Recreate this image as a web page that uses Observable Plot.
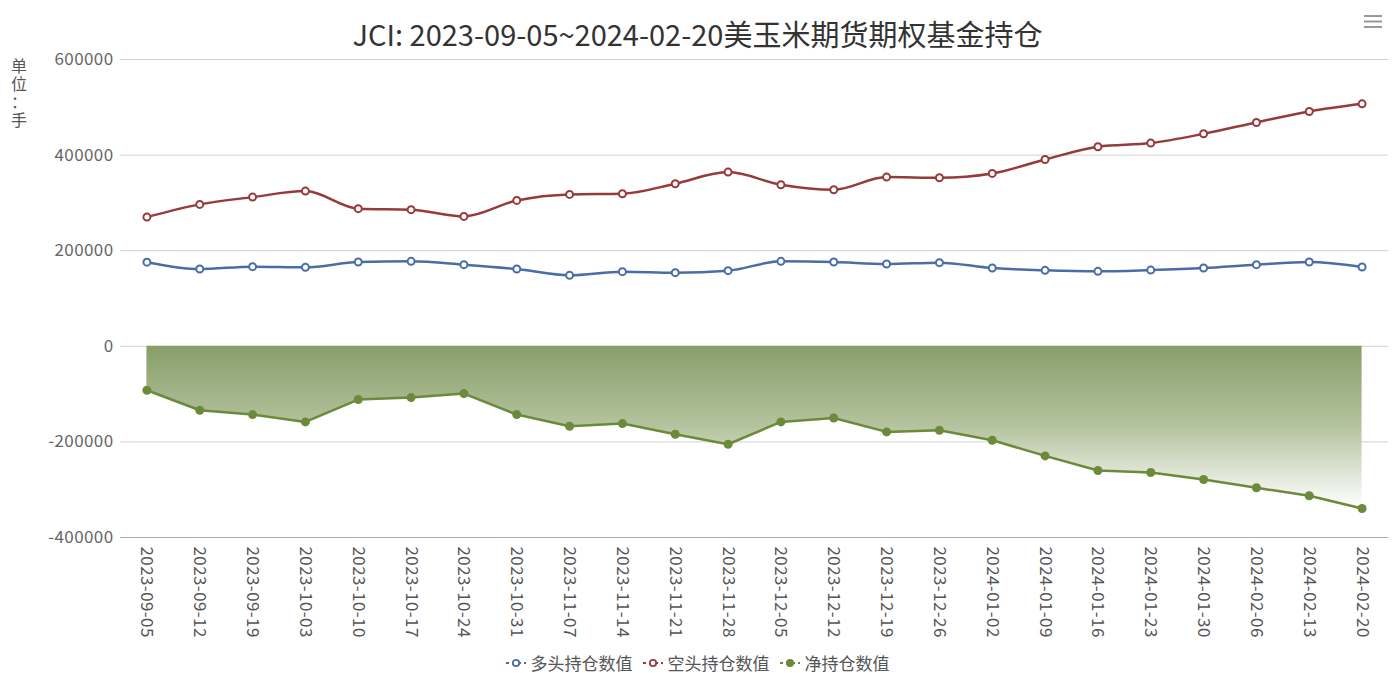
<!DOCTYPE html>
<html>
<head>
<meta charset="utf-8">
<script src="https://cdn.jsdelivr.net/npm/d3@7"></script>
<script src="https://cdn.jsdelivr.net/npm/@observablehq/plot@0.6"></script>
<style>
  html, body { margin: 0; padding: 0; background: #fff; }
  #wrap { position: relative; width: 1395px; height: 673px; font-family: "Noto Sans CJK SC", "Noto Sans", sans-serif; }
  #title { position: absolute; top: 12px; left: 0; width: 1395px; text-align: center; font-size: 29px; color: #333; line-height: 42px; }
  #unit { position: absolute; left: 11px; top: 56px; width: 16px; color: #555; font-size: 16px; line-height: 18px; word-break: break-all; line-break: anywhere; overflow-wrap: anywhere; text-align: center; }
  #menu { position: absolute; left: 1363px; top: 11px; }
  #legend { position: absolute; top: 650px; left: 0; width: 1395px; text-align: center; font-size: 17px; color: #555; line-height: 24px; }
  #legend span.item { display: inline-flex; align-items: center; margin: 0 5px; }
  #legend svg { margin-right: 5px; }
  #chart { position: absolute; left: 0; top: 0; }
</style>
</head>
<body>
<div id="wrap">
  <div id="chart"></div>
  <div id="title"></div>
  <div id="unit"></div>
  <div id="menu">
    <svg width="20" height="16"><g stroke="#999" stroke-width="2"><line x1="1" y1="2" x2="19" y2="2"/><line x1="1" y1="7.5" x2="19" y2="7.5"/><line x1="1" y1="13" x2="19" y2="13"/></g></svg>
  </div>
  <div id="legend"></div>
</div>
<script>
const titleText = "JCI: 2023-09-05~2024-02-20美玉米期货期权基金持仓";
const unitText = "单位：手";
const dates = ["2023-09-05","2023-09-12","2023-09-19","2023-10-03","2023-10-10","2023-10-17","2023-10-24","2023-10-31","2023-11-07","2023-11-14","2023-11-21","2023-11-28","2023-12-05","2023-12-12","2023-12-19","2023-12-26","2024-01-02","2024-01-09","2024-01-16","2024-01-23","2024-01-30","2024-02-06","2024-02-13","2024-02-20"];
const longPos = [176000,161600,166600,165200,176300,177700,170800,161600,148400,156100,154000,158200,177700,176300,172100,175000,163700,158900,156800,159500,163700,170800,176300,165800];
const shortPos = [270300,296900,312100,324700,287900,285800,271800,305200,317800,319200,340100,364400,338000,327600,354000,352700,361700,390900,417500,425100,444600,468300,491300,507300];
const netPos = [-92000,-133800,-142800,-158200,-111400,-107300,-98900,-142800,-167200,-161700,-184000,-204900,-158200,-149900,-179100,-175600,-196500,-229300,-259900,-264100,-278700,-296000,-312700,-339300];
const yTicks = [-400000,-200000,0,200000,400000,600000];
const seriesNames = ["多头持仓数值", "空头持仓数值", "净持仓数值"];
const seriesColors = ["#4a6da7", "#973a3a", "#6b8a3a"];

const data = dates.map((d, i) => ({date: d, long: longPos[i], short: shortPos[i], net: netPos[i]}));

document.getElementById("title").textContent = titleText;
document.getElementById("unit").textContent = unitText;

const gradDefs = () => {
  const ns = "http://www.w3.org/2000/svg";
  const defs = document.createElementNS(ns, "defs");
  const lg = document.createElementNS(ns, "linearGradient");
  lg.setAttribute("id", "netGrad");
  lg.setAttribute("x1", "0"); lg.setAttribute("y1", "0");
  lg.setAttribute("x2", "0"); lg.setAttribute("y2", "1");
  [[0, "#879e69", 1], [0.5, "#b5c49f", 1], [1, "#ffffff", 1]].forEach(([o, c, a]) => {
    const s = document.createElementNS(ns, "stop");
    s.setAttribute("offset", o);
    s.setAttribute("stop-color", c);
    s.setAttribute("stop-opacity", a);
    lg.appendChild(s);
  });
  defs.appendChild(lg);
  const g = document.createElementNS(ns, "g");
  g.appendChild(defs);
  return g;
};

const chart = Plot.plot({
  width: 1395,
  height: 673,
  marginTop: 59,
  marginBottom: 136,
  marginLeft: 120,
  marginRight: 7,
  style: {fontFamily: '"Noto Sans CJK SC", "Noto Sans", sans-serif', fontSize: "17px", background: "transparent", overflow: "visible", letterSpacing: "0.4px"},
  x: {type: "band", domain: dates, padding: 0, round: false},
  y: {domain: [-400000, 600000]},
  marks: [
    gradDefs,
    Plot.ruleY(yTicks.filter(t => t !== -400000), {stroke: "#cfcfcf", strokeWidth: 1}),
    Plot.ruleY([-400000], {stroke: "#aaaaaa", strokeWidth: 1}),
    Plot.areaY(data, {x: "date", y1: 0, y2: "net", fill: "url(#netGrad)", curve: "linear"}),
    Plot.line(data, {x: "date", y: "net", stroke: seriesColors[2], strokeWidth: 2.5, curve: "linear"}),
    Plot.dot(data, {x: "date", y: "net", fill: seriesColors[2], r: 4.5, stroke: "none"}),
    Plot.line(data, {x: "date", y: "long", stroke: seriesColors[0], strokeWidth: 2.5, curve: "monotone-x"}),
    Plot.dot(data, {x: "date", y: "long", fill: "#fff", stroke: seriesColors[0], strokeWidth: 2, r: 3.5}),
    Plot.line(data, {x: "date", y: "short", stroke: seriesColors[1], strokeWidth: 2.5, curve: "monotone-x"}),
    Plot.dot(data, {x: "date", y: "short", fill: "#fff", stroke: seriesColors[1], strokeWidth: 2, r: 3.5}),
    Plot.axisY({ticks: yTicks, tickSize: 0, tickPadding: 7, tickFormat: d => String(d), fill: "#666", fontSize: 17, label: null}),
    Plot.axisX({tickSize: 0, tickPadding: 9, tickRotate: 90, fill: "#555", fontSize: 17, label: null})
  ]
});
document.getElementById("chart").appendChild(chart);

const legend = document.getElementById("legend");
seriesNames.forEach((name, i) => {
  const item = document.createElement("span");
  item.className = "item";
  const filled = i === 2;
  item.innerHTML = `<svg width="20" height="12"><line x1="0" y1="6" x2="20" y2="6" stroke="${seriesColors[i]}" stroke-width="2" stroke-dasharray="3,3"/><circle cx="10" cy="6" r="3.2" fill="${filled ? seriesColors[i] : "#fff"}" stroke="${seriesColors[i]}" stroke-width="1.8"/></svg>`;
  const t = document.createElement("span");
  t.textContent = name;
  item.appendChild(t);
  legend.appendChild(item);
});
</script>
</body>
</html>
